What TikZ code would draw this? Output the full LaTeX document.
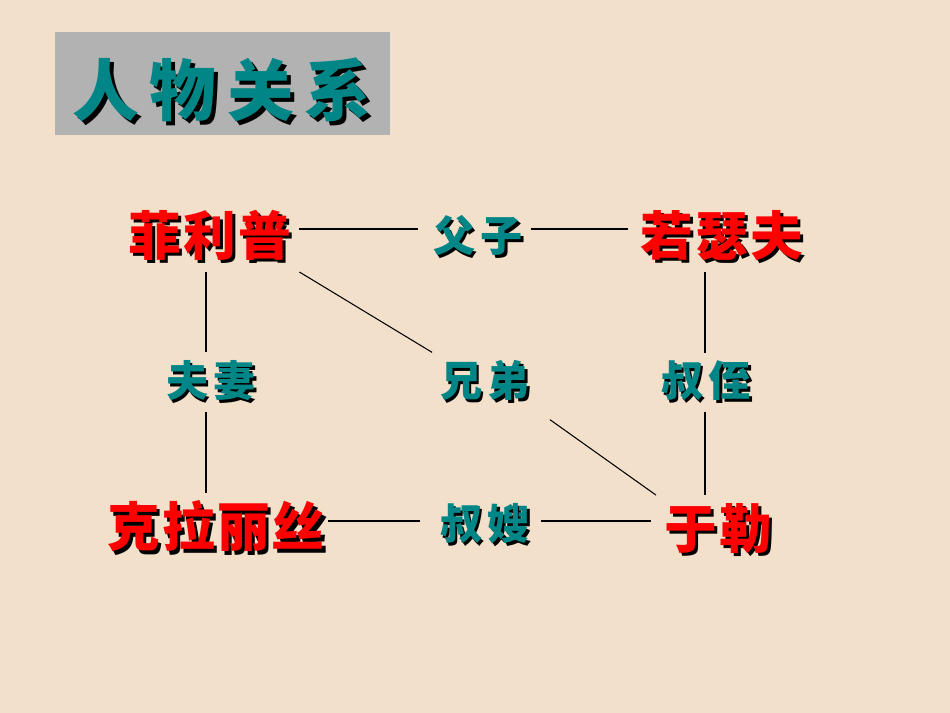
\documentclass[tikz,border=0pt]{standalone}
\usepackage{fontspec}
\usetikzlibrary{calc}
\newfontfamily\cjk{Noto Sans CJK SC}
\definecolor{wood}{RGB}{242,224,203}
\definecolor{titlegray}{RGB}{178,178,178}
\definecolor{teal}{RGB}{0,134,134}
\definecolor{namered}{RGB}{255,0,0}
% text with a dark drop shadow
\newcommand\shtext[3]{\rlap{\hspace{#1}\raisebox{-#1}{\color{black}#3}}{\color{#2}#3}}
\tikzset{
    person/.style={inner sep=4.5pt,font=\cjk\bfseries\fontsize{30}{30}\selectfont\addfontfeature{LetterSpace=4}},
    relation/.style={inner sep=4.5pt,font=\cjk\bfseries\fontsize{24}{24}\selectfont\addfontfeature{LetterSpace=12}},
    link/.style={black,line width=0.6pt}
}
\begin{document}
\begin{tikzpicture}[x=0.02cm,y=-0.02cm]
    \fill [wood] (0,0) rectangle (950,713);
    \useasboundingbox (0,0) rectangle (950,713);
    \fill [titlegray] (55,32) rectangle (390,135);
    \node (title) at (222,92) [font=\cjk\bfseries\fontsize{38}{38}\selectfont\addfontfeature{LetterSpace=16}]
        {\shtext{2.2pt}{teal}{人物关系}};

    \node [person] (fe) at (210,237) {\shtext{1.8pt}{namered}{菲利普}};
    \node [person] (ry) at (722,237) {\shtext{1.8pt}{namered}{若瑟夫}};
    \node [person] (kl) at (216,528) {\shtext{1.8pt}{namered}{克拉丽丝}};
    \node [person] (yl) at (718,530) {\shtext{1.8pt}{namered}{于勒}};

    \node [relation] (fz) at (478,237) {\shtext{1.5pt}{teal}{父子}};
    \node [relation] (fq) at (211,382) {\shtext{1.5pt}{teal}{夫妻}};
    \node [relation] (xd) at (485,382) {\shtext{1.5pt}{teal}{兄弟}};
    \node [relation] (sz) at (706,382) {\shtext{1.5pt}{teal}{叔侄}};
    \node [relation] (ss) at (485,525) {\shtext{1.5pt}{teal}{叔嫂}};

    \draw [link] ($(fe.east)+(0,-8)$) -- ($(fz.west)+(-7,-8)$);
    \draw [link] ($(fz.east)+(0,-8)$) -- ($(ry.west)+(-5,-8)$);
    \draw [link] (fe.south east) -- (xd.north west);
    \draw [link] ($(xd.south east)+(12,8)$) -- (yl.north west);
    \draw [link] ($(fe.south)+(-4,0)$) -- ($(fq.north)+(-5,0)$);
    \draw [link] ($(fq.south)+(-5,0)$) -- ($(kl.north)+(-10,0)$);
    \draw [link] ($(ry.south)+(-17,0)$) -- ($(sz.north)+(-1,0)$);
    \draw [link] ($(sz.south)+(-1,0)$) -- ($(yl.north)+(-13,0)$);
    \draw [link] ($(kl.east)+(-5,-7)$) -- ($(ss.west)+(-12,-4)$);
    \draw [link] ($(ss.east)+(3,-4)$) -- ($(yl.west)+(-5,-9)$);
\end{tikzpicture}
\end{document}
